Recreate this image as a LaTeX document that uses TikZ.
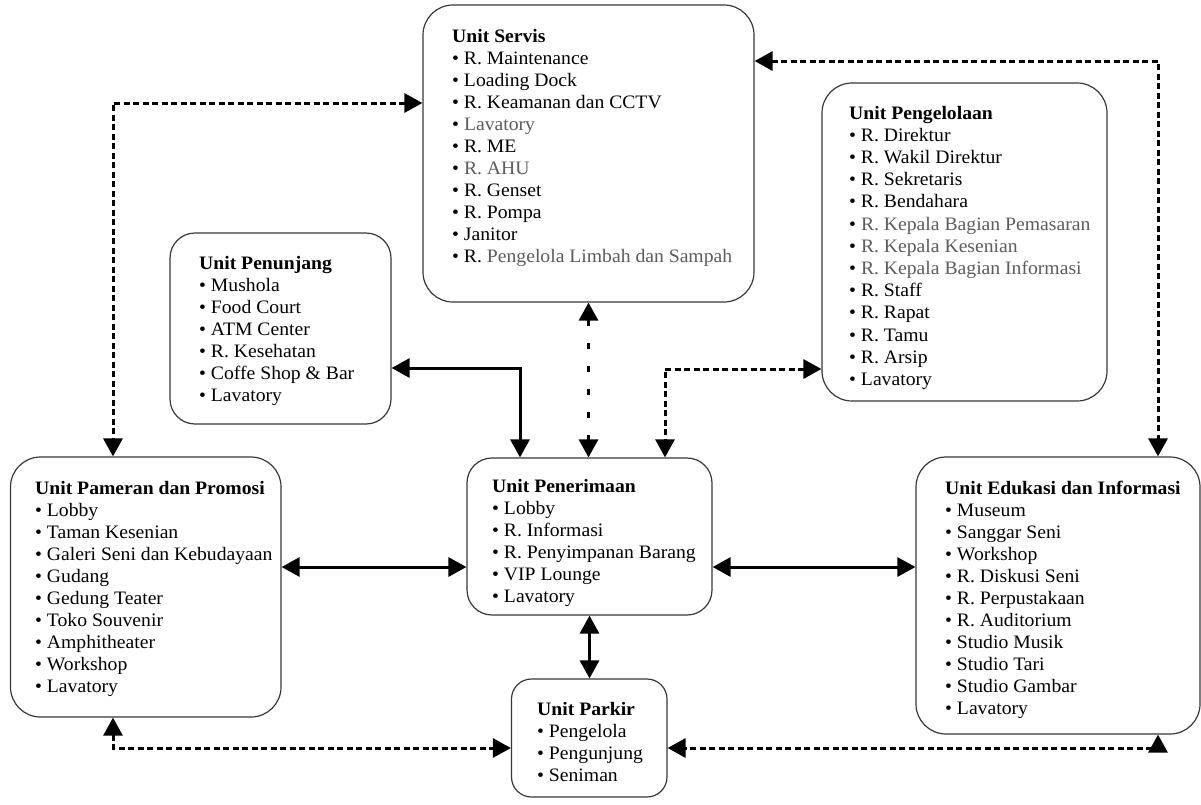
\documentclass[tikz,border=0pt]{standalone}
\usepackage{fontspec}
\setmainfont{Liberation Serif}[FakeStretch=1.035]
\usetikzlibrary{arrows.meta}

\definecolor{boxline}{gray}{0.22}
\definecolor{softtext}{gray}{0.36}

% list entries: plain and softer grey
\newcommand\itm[1]{•\ #1}
\newcommand\gitm[1]{•\ {\color{softtext}#1}}
\newcommand\unitlist[2]{\begin{tabular}[t]{@{}l@{}}\textbf{#1}\\#2\end{tabular}}

\tikzset{
  unitbox/.style={draw=boxline, line width=1.2pt, inner sep=0pt, fill=white},
  unittext/.style={anchor=base west, inner sep=0pt,
    font=\fontsize{19}{22}\selectfont},
  tip/.tip={Triangle[length=18pt,width=19pt]},
  link/.style={line width=3pt, tip-tip},
  dlink/.style={link, dash pattern=on 6pt off 3.5pt},
  sparselink/.style={link, dash pattern=on 6pt off 17pt},
}

\begin{document}
\begin{tikzpicture}[x=1pt, y=-1pt]
\useasboundingbox (0,0) rectangle (1201,804);

% ---- unit boxes ----
\node[unitbox, minimum width=331pt, minimum height=297pt, rounded corners=30pt] (servis) at (588.5,153.5) {};
\node[unitbox, minimum width=285pt, minimum height=318pt, rounded corners=30pt] (pengelolaan) at (964.5,242) {};
\node[unitbox, minimum width=221pt, minimum height=191pt, rounded corners=25pt] (penunjang) at (280.5,328.5) {};
\node[unitbox, minimum width=270.5pt, minimum height=260pt, rounded corners=30pt] (pameran) at (145.75,587) {};
\node[unitbox, minimum width=245pt, minimum height=157pt, rounded corners=25pt] (penerimaan) at (589.5,536.5) {};
\node[unitbox, minimum width=155.5pt, minimum height=118pt, rounded corners=20pt] (parkir) at (589.25,738) {};
\node[unitbox, minimum width=284pt, minimum height=277pt, rounded corners=30pt] (edukasi) at (1058,595.5) {};

% ---- contents ----
\node[unittext] (servis-t) at (452,42) {\unitlist{Unit Servis}{%
  \itm{R. Maintenance}\\ \itm{Loading Dock}\\ \itm{R. Keamanan dan CCTV}\\
  \gitm{Lavatory}\\ \itm{R. ME}\\ \gitm{R. AHU}\\ \itm{R. Genset}\\
  \itm{R. Pompa}\\ \itm{Janitor}\\
  \itm{R. {\color{softtext}Pengelola Limbah dan Sampah}}}};

\node[unittext] (pengelolaan-t) at (849,119) {\renewcommand\arraystretch{1.01}\unitlist{Unit Pengelolaan}{%
  \itm{R. Direktur}\\ \itm{R. Wakil Direktur}\\ \itm{R. Sekretaris}\\
  \itm{R. Bendahara}\\ \gitm{R. Kepala Bagian Pemasaran}\\
  \gitm{R. Kepala Kesenian}\\ \gitm{R. Kepala Bagian Informasi}\\
  \itm{R. Staff}\\ \itm{R. Rapat}\\ \itm{R. Tamu}\\ \itm{R. Arsip}\\
  \itm{Lavatory}}};

\node[unittext] (penunjang-t) at (199,269) {\unitlist{Unit Penunjang}{%
  \itm{Mushola}\\ \itm{Food Court}\\ \itm{ATM Center}\\ \itm{R. Kesehatan}\\
  \itm{Coffe Shop \& Bar}\\ \itm{Lavatory}}};

\node[unittext] (pameran-t) at (35,494) {\unitlist{Unit Pameran dan Promosi}{%
  \itm{Lobby}\\ \itm{Taman Kesenian}\\ \itm{Galeri Seni dan Kebudayaan}\\
  \itm{Gudang}\\ \itm{Gedung Teater}\\ \itm{Toko Souvenir}\\
  \itm{Amphitheater}\\ \itm{Workshop}\\ \itm{Lavatory}}};

\node[unittext] (penerimaan-t) at (492,492) {\unitlist{Unit Penerimaan}{%
  \itm{Lobby}\\ \itm{R. Informasi}\\ \itm{R. Penyimpanan Barang}\\
  \itm{VIP Lounge}\\ \itm{Lavatory}}};

\node[unittext] (parkir-t) at (537,715) {\unitlist{Unit Parkir}{%
  \itm{Pengelola}\\ \itm{Pengunjung}\\ \itm{Seniman}}};

\node[unittext] (edukasi-t) at (945,494) {\unitlist{Unit Edukasi dan Informasi}{%
  \itm{Museum}\\ \itm{Sanggar Seni}\\ \itm{Workshop}\\ \itm{R. Diskusi Seni}\\
  \itm{R. Perpustakaan}\\ \itm{R. Auditorium}\\ \itm{Studio Musik}\\
  \itm{Studio Tari}\\ \itm{Studio Gambar}\\ \itm{Lavatory}}};

% ---- bend points of the connectors ----
\coordinate (bServEdu) at (1158,61);
\coordinate (bPamServ) at (113,103);
\coordinate (bPenunj) at (520,368);
\coordinate (bPengel) at (665,369);
\coordinate (midRow) at (0,567);
\coordinate (bPamPark) at (113,748);
\coordinate (bEduPark) at (1158,748);

% ---- connectors ----
\draw[dlink] (bServEdu -| servis.east) -- (bServEdu) -- (bServEdu |- edukasi.north);
\draw[dlink] (bPamServ -| servis.west) -- (bPamServ) -- (bPamServ |- pameran.north);
\draw[sparselink] (servis.south) -- (servis.south |- penerimaan.north);
\draw[link] (bPenunj -| penunjang.east) -- (bPenunj) -- (bPenunj |- penerimaan.north);
\draw[dlink] (bPengel -| pengelolaan.west) -- (bPengel) -- (bPengel |- penerimaan.north);
\draw[link] (midRow -| pameran.east) -- (midRow -| penerimaan.west);
\draw[link] (midRow -| penerimaan.east) -- (midRow -| edukasi.west);
\draw[link] (penerimaan.south) -- (penerimaan.south |- parkir.north);
\draw[dlink] (bPamPark |- pameran.south) -- (bPamPark) -- (bPamPark -| parkir.west);
\draw[dlink] (bEduPark |- edukasi.south) -- (bEduPark) -- (bEduPark -| parkir.east);
\end{tikzpicture}
\end{document}
